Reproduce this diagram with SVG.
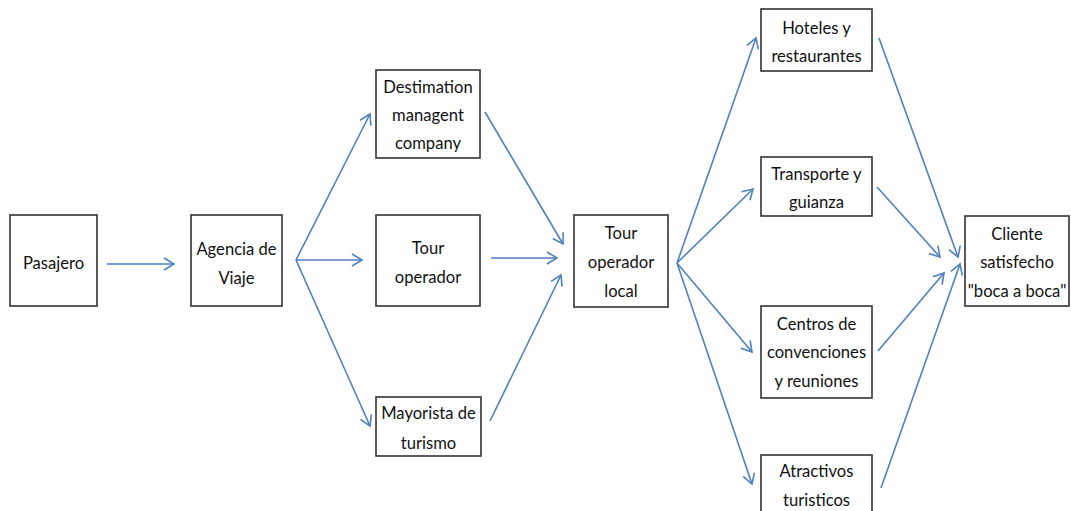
<svg xmlns="http://www.w3.org/2000/svg" width="1071" height="511" viewBox="0 0 1071 511">
<defs>
<style>
.box{fill:#fff;stroke:#333;stroke-width:1.6}
.t{font-family:Lato,"Liberation Sans",sans-serif;font-size:16.6px;fill:#111;text-anchor:middle}
.c{fill:none;stroke:#4F81BD;stroke-width:1.6;marker-end:url(#ah)}
</style>
<marker id="ah" markerUnits="userSpaceOnUse" markerWidth="14" markerHeight="14" viewBox="0 0 14 14" refX="12" refY="7" orient="auto">
<path d="M2,1 L12,7 L2,13" fill="none" stroke="#4F81BD" stroke-width="1.6"/>
</marker>
</defs>
<rect width="1071" height="511" fill="#fff"/>
<g id="connectors">
<line class="c" x1="107" y1="264" x2="174" y2="264"/>
<line class="c" x1="296" y1="260" x2="370" y2="114"/>
<line class="c" x1="296" y1="260" x2="362" y2="260"/>
<line class="c" x1="296" y1="260" x2="370" y2="426"/>
<line class="c" x1="485" y1="112" x2="563" y2="244"/>
<line class="c" x1="491" y1="258" x2="557" y2="258"/>
<line class="c" x1="490" y1="421" x2="561" y2="275"/>
<line class="c" x1="677" y1="263" x2="756" y2="38"/>
<line class="c" x1="677" y1="263" x2="753" y2="189"/>
<line class="c" x1="677" y1="263" x2="752" y2="352"/>
<line class="c" x1="677" y1="263" x2="752" y2="484"/>
<line class="c" x1="879" y1="38" x2="958" y2="257"/>
<line class="c" x1="877" y1="187" x2="940" y2="257"/>
<line class="c" x1="878" y1="351" x2="944" y2="273"/>
<line class="c" x1="881" y1="488" x2="960" y2="264"/>
</g>
<g id="pasajero"><rect class="box" x="10" y="215" width="87" height="91"/><text class="t" x="53.5" y="269">Pasajero</text></g>
<g id="agencia"><rect class="box" x="191" y="215" width="91" height="91"/><text class="t" x="236.5" y="255">Agencia de</text><text class="t" x="236.5" y="284">Viaje</text></g>
<g id="destimation"><rect class="box" x="376" y="70" width="104" height="88"/><text class="t" x="428" y="93">Destimation</text><text class="t" x="428" y="121">managent</text><text class="t" x="428" y="149">company</text></g>
<g id="touroperador"><rect class="box" x="376" y="215" width="104" height="91"/><text class="t" x="428" y="254">Tour</text><text class="t" x="428" y="283">operador</text></g>
<g id="mayorista"><rect class="box" x="376" y="397" width="105" height="59"/><text class="t" x="428.5" y="419">Mayorista de</text><text class="t" x="428.5" y="449">turismo</text></g>
<g id="tourlocal"><rect class="box" x="574" y="215" width="94" height="92"/><text class="t" x="621" y="239">Tour</text><text class="t" x="621" y="268">operador</text><text class="t" x="621" y="297">local</text></g>
<g id="hoteles"><rect class="box" x="761" y="9" width="111" height="62"/><text class="t" x="816.5" y="34">Hoteles y</text><text class="t" x="816.5" y="62">restaurantes</text></g>
<g id="transporte"><rect class="box" x="761" y="157" width="111" height="59"/><text class="t" x="816.5" y="180">Transporte y</text><text class="t" x="816.5" y="208">guianza</text></g>
<g id="centros"><rect class="box" x="761" y="306" width="111" height="92"/><text class="t" x="816.5" y="330">Centros de</text><text class="t" x="816.5" y="358">convenciones</text><text class="t" x="816.5" y="387">y reuniones</text></g>
<g id="atractivos"><rect class="box" x="761" y="455" width="111" height="70"/><text class="t" x="816.5" y="477">Atractivos</text><text class="t" x="816.5" y="506">turisticos</text></g>
<g id="cliente"><rect class="box" x="965" y="216" width="104" height="90"/><text class="t" x="1017" y="240">Cliente</text><text class="t" x="1017" y="268">satisfecho</text><text class="t" x="1017" y="297">"boca a boca"</text></g>
</svg>
